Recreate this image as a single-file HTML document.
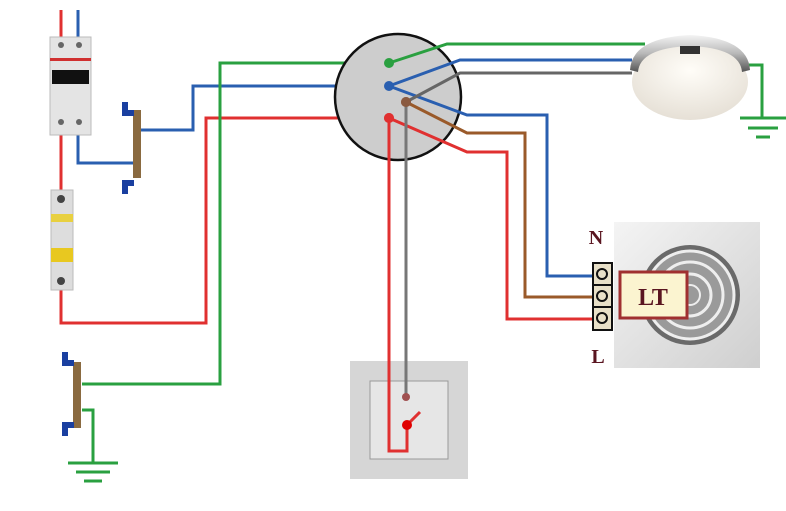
<!DOCTYPE html>
<html><head><meta charset="utf-8"><style>body{margin:0;background:#fff}svg{display:block}</style></head><body>
<svg width="786" height="511" viewBox="0 0 786 511" xmlns="http://www.w3.org/2000/svg">
<defs>
<radialGradient id="lamp" cx="50%" cy="35%" r="65%"><stop offset="0" stop-color="#fffdf8"/><stop offset="1" stop-color="#e6e0d6"/></radialGradient>
<linearGradient id="rim" x1="0" y1="0" x2="0" y2="1"><stop offset="0" stop-color="#f4f4f4"/><stop offset="0.5" stop-color="#b8b8b8"/><stop offset="1" stop-color="#555"/></linearGradient>
<linearGradient id="fan" x1="0" y1="0" x2="1" y2="1"><stop offset="0" stop-color="#f4f4f4"/><stop offset="1" stop-color="#cfcfcf"/></linearGradient>
</defs>
<g fill="none" stroke-width="3" stroke-linejoin="miter">
<path d="M61 10V37" stroke="#e03030"/><path d="M78 10V37" stroke="#2a5fb0"/>
<path d="M78 135V163H135" stroke="#2a5fb0"/>
<path d="M140 130H193V86H389" stroke="#2a5fb0"/>
<path d="M61 135V190" stroke="#e03030"/>
<path d="M61 290V323H206V118H389" stroke="#e03030"/>
<path d="M82 384H220V63H389" stroke="#2aa040"/>
<path d="M82 410H93V463" stroke="#2aa040"/>
</g>
<circle cx="398" cy="97" r="63" fill="#cdcdcd" stroke="#111" stroke-width="2.5"/>
<g fill="none" stroke-width="3">
<path d="M389 63L447 44H645" stroke="#2aa040"/>
<path d="M389 86L460 60H632" stroke="#2a5fb0"/>
<path d="M389 86L467 115H547V276H598" stroke="#2a5fb0"/>
<path d="M406 102L460 73H632" stroke="#666"/>
<path d="M406 102L467 133H525V297H598" stroke="#9a5a2a"/>
<path d="M389 118L467 152H507V319H598" stroke="#e03030"/>
<path d="M748 65H762V118" stroke="#2aa040"/>
</g>
<circle cx="389" cy="63" r="5" fill="#2aa040"/>
<circle cx="389" cy="86" r="5" fill="#2a5fb0"/>
<circle cx="406" cy="102" r="5" fill="#8a5a40"/>
<circle cx="389" cy="118" r="5" fill="#e03030"/>
<g stroke="#2aa040" stroke-width="3">
<path d="M740 118H786M748 128H778M756 137H770"/>
<path d="M68 463H118M76 472H110M84 481H102"/>
</g>
<rect x="50" y="37" width="41" height="98" fill="#e4e4e4" stroke="#bbb"/>
<rect x="50" y="58" width="41" height="3" fill="#d03030"/>
<rect x="52" y="70" width="37" height="14" fill="#111"/>
<circle cx="61" cy="45" r="3" fill="#666"/><circle cx="79" cy="45" r="3" fill="#666"/>
<circle cx="61" cy="122" r="3" fill="#666"/><circle cx="79" cy="122" r="3" fill="#666"/>
<rect x="51" y="190" width="22" height="100" fill="#ddd" stroke="#bbb"/>
<rect x="51" y="214" width="22" height="8" fill="#e8d040"/>
<rect x="51" y="248" width="22" height="14" fill="#e8c820"/>
<circle cx="61" cy="199" r="4" fill="#444"/><circle cx="61" cy="281" r="4" fill="#444"/>
<rect x="133" y="110" width="8" height="68" fill="#8a6a40"/>
<path d="M122 102h6v8h6v6h-12z M122 180h12v6h-6v8h-6z" fill="#1a3fa0"/>
<rect x="73" y="362" width="8" height="66" fill="#8a6a40"/>
<path d="M62 352h6v8h6v6h-12z M62 422h12v6h-6v8h-6z" fill="#1a3fa0"/>
<ellipse cx="690" cy="82" rx="58" ry="38" fill="url(#lamp)"/>
<path d="M630 70 Q632 38 690 35 Q748 38 750 70 L742 72 Q740 48 690 46 Q640 48 638 72 Z" fill="url(#rim)"/>
<rect x="680" y="46" width="20" height="8" fill="#333"/>
<rect x="614" y="222" width="146" height="146" fill="url(#fan)"/>
<circle cx="690" cy="295" r="50" fill="#6a6a6a"/>
<circle cx="690" cy="295" r="44" fill="#9a9a9a" stroke="#eee" stroke-width="3"/>
<circle cx="690" cy="295" r="33" fill="none" stroke="#eee" stroke-width="3"/>
<circle cx="690" cy="295" r="21" fill="none" stroke="#eee" stroke-width="3"/>
<circle cx="690" cy="295" r="10" fill="none" stroke="#eee" stroke-width="2"/>
<rect x="593" y="263" width="19" height="67" fill="#e8e0c8" stroke="#111" stroke-width="2"/>
<path d="M593 285H612M593 307H612" stroke="#111" stroke-width="2"/>
<g fill="none" stroke="#111" stroke-width="2"><circle cx="602" cy="274" r="5"/><circle cx="602" cy="296" r="5"/><circle cx="602" cy="318" r="5"/></g>
<rect x="620" y="272" width="67" height="46" fill="#fbf4d0" stroke="#a03030" stroke-width="3"/>
<text x="653" y="305" font-family="Liberation Serif,serif" font-weight="bold" font-size="24" fill="#5a1520" text-anchor="middle">LT</text>
<text x="596" y="244" font-family="Liberation Serif,serif" font-weight="bold" font-size="20" fill="#5a1520" text-anchor="middle">N</text>
<text x="598" y="363" font-family="Liberation Serif,serif" font-weight="bold" font-size="20" fill="#5a1520" text-anchor="middle">L</text>
<rect x="350" y="361" width="118" height="118" fill="#d6d6d6"/>
<rect x="370" y="381" width="78" height="78" fill="#e6e6e6" stroke="#999"/>
<path d="M406 102V396" stroke="#777" stroke-width="3"/>
<path d="M389 118V451H407V425L420 412" fill="none" stroke="#e03030" stroke-width="3"/>
<circle cx="389" cy="118" r="5" fill="#e03030"/>
<circle cx="406" cy="102" r="5" fill="#8a5a40"/>
<circle cx="406" cy="397" r="4" fill="#a05050"/>
<circle cx="407" cy="425" r="5" fill="#e00000"/>
</svg>
</body></html>
